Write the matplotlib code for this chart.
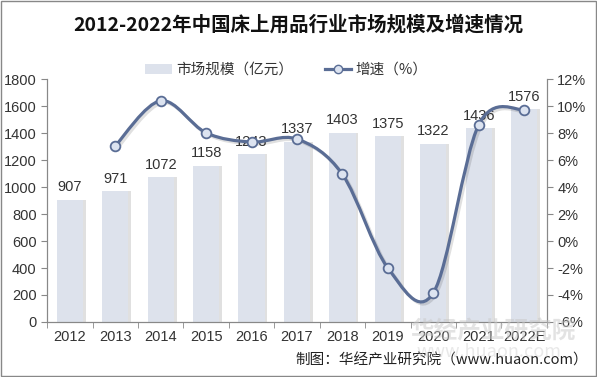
import numpy as np
import matplotlib.pyplot as plt
from matplotlib.path import Path
from matplotlib.patches import PathPatch
import matplotlib.patheffects as pe

plt.rcParams['font.family'] = ['Noto Sans CJK SC', 'DejaVu Sans']

years = ['2012', '2013', '2014', '2015', '2016', '2017', '2018', '2019', '2020', '2021', '2022E']
market = [907, 971, 1072, 1158, 1243, 1337, 1403, 1375, 1322, 1436, 1576]
growth = [None, 7.06, 10.40, 8.02, 7.34, 7.56, 4.94, -2.00, -3.85, 8.62, 9.75]

fig = plt.figure(figsize=(5.97, 3.77), dpi=100)
ax = fig.add_axes([0.079, 0.146, 0.837, 0.644])
ax2 = ax.twinx()

x = np.arange(len(years))
bar_c = '#dde2ec'
line_c = '#5a6d95'

# bars with a soft shadow
ax.bar(x + 0.06, market, width=0.58, color='#9a9a9a', alpha=0.3, zorder=1)
ax.bar(x, market, width=0.58, color=bar_c, zorder=2, label='市场规模（亿元）')
for xi, v in zip(x, market):
    ax.text(xi, v + 40, str(v), ha='center', va='bottom', fontsize=10.5,
            color='#333333', family=['Liberation Sans', 'DejaVu Sans'], zorder=5)

ax.set_xlim(-0.5, len(years) - 0.5)
ax.set_ylim(0, 1800)
ax.set_yticks(range(0, 1801, 200))
ax2.set_ylim(-6, 12)
ax2.set_yticks(range(-6, 13, 2))
ax2.set_yticklabels([f'{t}%' for t in range(-6, 13, 2)])

ax.set_xticks(x)
ax.set_xticklabels(years)
ax.set_xticks(np.arange(-0.5, len(years), 1), minor=True)
ax.tick_params(axis='x', which='major', length=0, pad=6)
ax.tick_params(axis='x', which='minor', length=4, color='#888888')
for a in (ax, ax2):
    a.tick_params(axis='y', length=4, color='#888888', labelsize=10.5, labelcolor='#333333')
    for s in a.spines.values():
        s.set_color('#888888')
    a.spines['top'].set_visible(False)
ax.tick_params(axis='x', labelsize=10.5, labelcolor='#333333')
for lbl in ax.get_xticklabels() + ax.get_yticklabels() + ax2.get_yticklabels():
    lbl.set_family(['Liberation Sans', 'DejaVu Sans'])

# smoothed growth line drawn as cubic bezier segments
gx = [xi for xi, g in zip(x, growth) if g is not None]
gy = [g for g in growth if g is not None]
pts = np.array(list(zip(gx, gy)), dtype=float)
verts = [pts[0]]
codes = [Path.MOVETO]
n = len(pts)
for i in range(n - 1):
    p0 = pts[i - 1] if i > 0 else pts[i]
    p1, p2 = pts[i], pts[i + 1]
    p3 = pts[i + 2] if i + 2 < n else pts[i + 1]
    c1 = p1 + (p2 - p0) / 6
    c2 = p2 - (p3 - p1) / 6
    verts += [c1, c2, p2]
    codes += [Path.CURVE4] * 3
path = Path(verts, codes)
ax2.add_patch(PathPatch(path, fill=False, edgecolor=line_c, lw=2.3, zorder=3,
                        path_effects=[pe.SimpleLineShadow(offset=(1.5, -1.5), alpha=0.12), pe.Normal()]))
ax2.plot(gx, gy, linestyle='none', marker='o', ms=7, mfc='#dce3f0', mec=line_c, mew=1.3, zorder=4)
ax2.set_zorder(ax.get_zorder() + 1)
ax.patch.set_visible(True)
ax2.patch.set_visible(False)

# legend
ax2.plot([], [], color=line_c, lw=2.3, marker='o', ms=6, mfc='#dce3f0', mec=line_c, label='增速（%）')
h1, l1 = ax.get_legend_handles_labels()
h2, l2 = ax2.get_legend_handles_labels()
fig.legend(h1 + h2, l1 + l2, loc='center', bbox_to_anchor=(0.48, 0.815), ncol=2, frameon=False,
           fontsize=10.5, handlelength=1.8, handletextpad=0.3, columnspacing=2.2, labelcolor='#333333')

fig.text(0.5, 0.935, '2012-2022年中国床上用品行业市场规模及增速情况', ha='center', va='center',
         fontsize=14, fontweight='bold', color='#111111')
fig.text(0.985, 0.045, '制图：华经产业研究院（www.huaon.com）', ha='right', va='center',
         fontsize=10.5, color='#222222')
# faint watermark
fig.text(0.965, 0.12, '华经产业研究院', ha='right', va='center', fontsize=17,
         fontweight='bold', color='#c8c8c8', alpha=0.5, style='italic')
fig.text(0.94, 0.065, 'www.huaon.com', ha='right', va='center', fontsize=13,
         color='#c8c8c8', alpha=0.4)

fig.patches.append(plt.Rectangle((0.002, 0.003), 0.996, 0.994, transform=fig.transFigure,
                                 fill=False, edgecolor='#888888', lw=1))

fig.savefig('out.png', dpi=100)
